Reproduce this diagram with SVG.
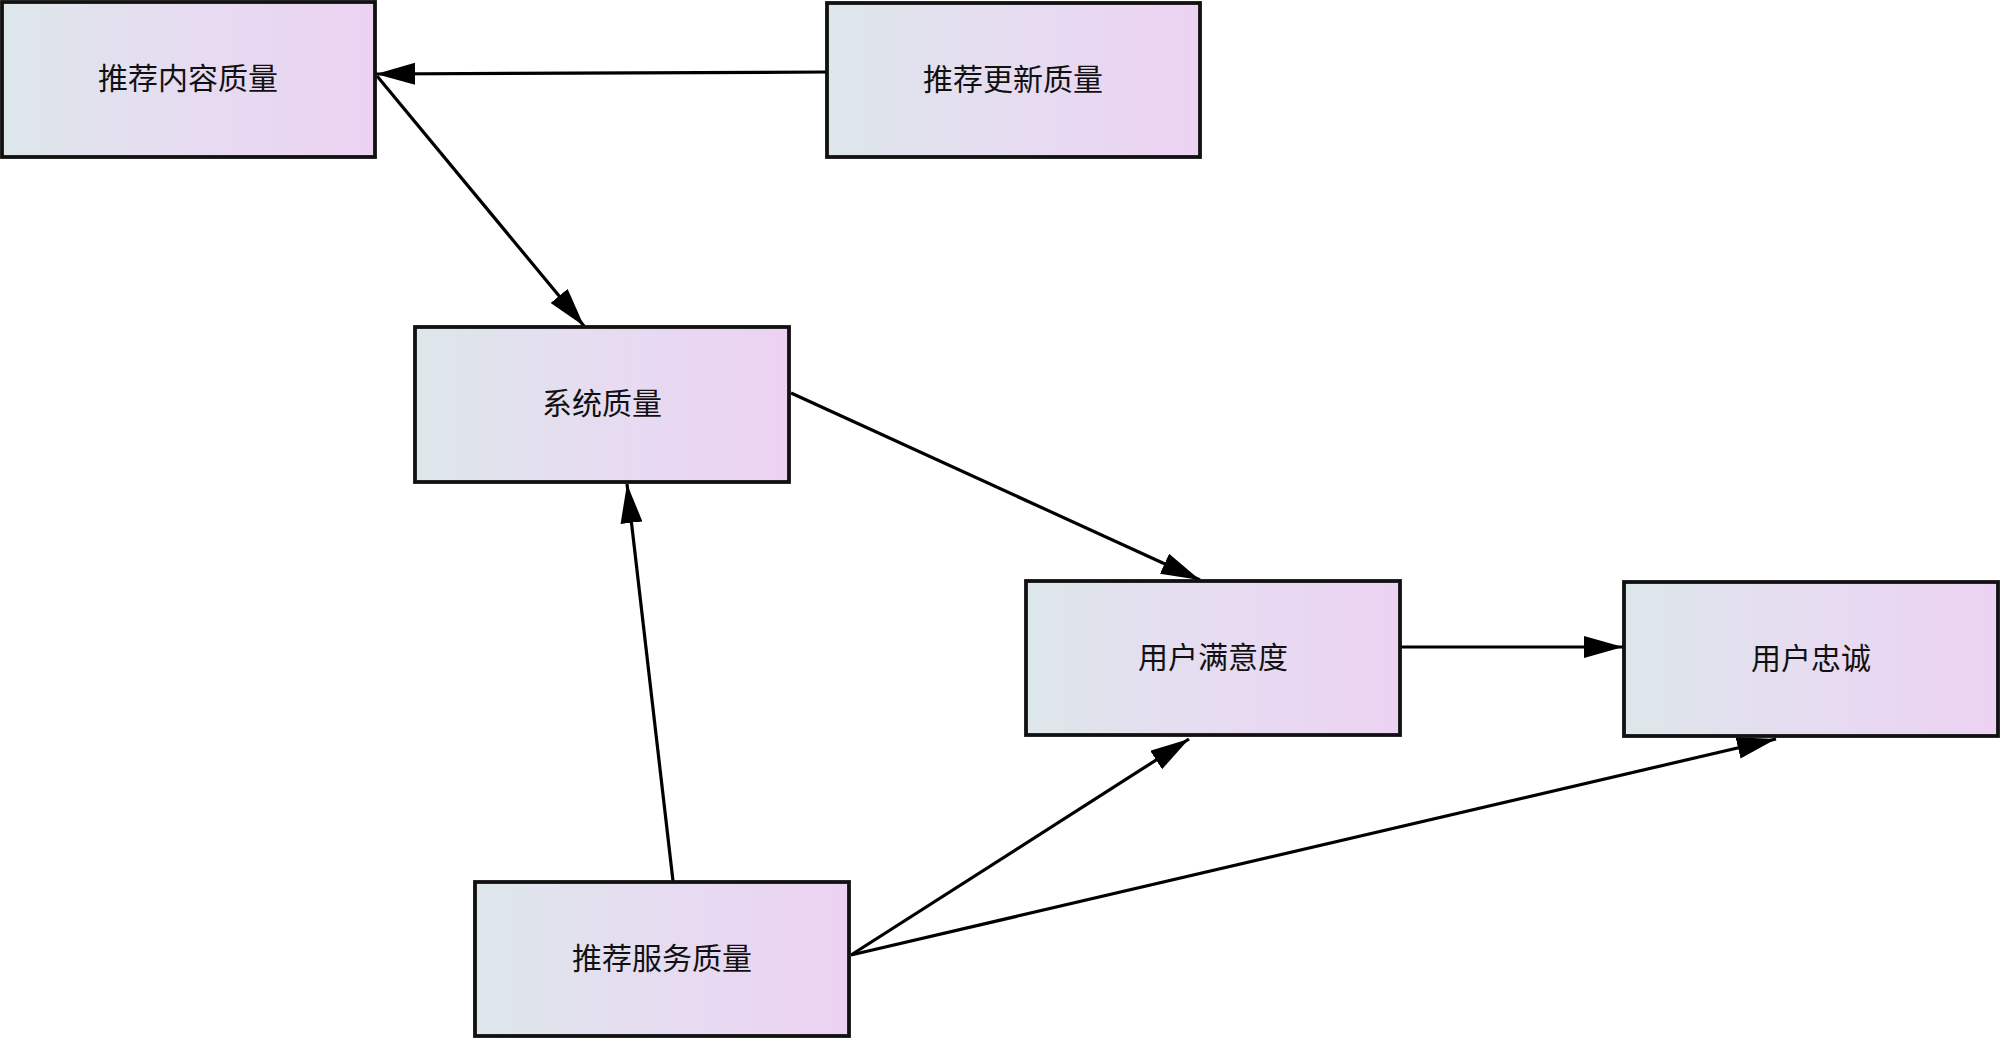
<svg xmlns="http://www.w3.org/2000/svg" width="2000" height="1039" viewBox="0 0 2000 1039">
<style>
.box{fill:url(#g);stroke:#111;stroke-width:3.8}
.lbl{font-family:"Noto Sans CJK SC","Noto Sans",sans-serif;font-size:30px;fill:#111;text-anchor:middle;dominant-baseline:central}
.edge{stroke:#000;stroke-width:3.2;fill:none;marker-end:url(#ah)}
</style>
<defs>
<linearGradient id="g" x1="0" y1="0" x2="1" y2="0">
<stop offset="0" stop-color="#dde7ea"/>
<stop offset="0.5" stop-color="#e6dcf1"/>
<stop offset="1" stop-color="#ecd2f2"/>
</linearGradient>
<marker id="ah" markerUnits="userSpaceOnUse" markerWidth="42" markerHeight="24" refX="39" refY="11" orient="auto">
<path d="M0,0 L39,11 L0,22 z" fill="#000"/>
</marker>
</defs>
<rect width="2000" height="1039" fill="#fff"/>
<g id="connectors">
<line class="edge" x1="827" y1="72" x2="376" y2="74"/>
<line class="edge" x1="377" y1="76" x2="584" y2="326"/>
<line class="edge" x1="791" y1="393" x2="1200" y2="580"/>
<line class="edge" x1="1400" y1="647" x2="1623" y2="647"/>
<line class="edge" x1="673" y1="881" x2="627" y2="484"/>
<line class="edge" x1="851" y1="955" x2="1189" y2="739"/>
<line class="edge" x1="851" y1="955" x2="1776" y2="739"/>
</g>
<g id="n1"><rect class="box" x="2" y="2" width="373" height="155"/><text class="lbl" x="188" y="76">推荐内容质量</text></g>
<g id="n2"><rect class="box" x="827" y="3" width="373" height="154"/><text class="lbl" x="1013" y="77">推荐更新质量</text></g>
<g id="n3"><rect class="box" x="415" y="327" width="374" height="155"/><text class="lbl" x="602" y="401">系统质量</text></g>
<g id="n4"><rect class="box" x="1026" y="581" width="374" height="154"/><text class="lbl" x="1213" y="655">用户满意度</text></g>
<g id="n5"><rect class="box" x="1624" y="582" width="374" height="154"/><text class="lbl" x="1811" y="656">用户忠诚</text></g>
<g id="n6"><rect class="box" x="475" y="882" width="374" height="154"/><text class="lbl" x="662" y="956">推荐服务质量</text></g>
</svg>
